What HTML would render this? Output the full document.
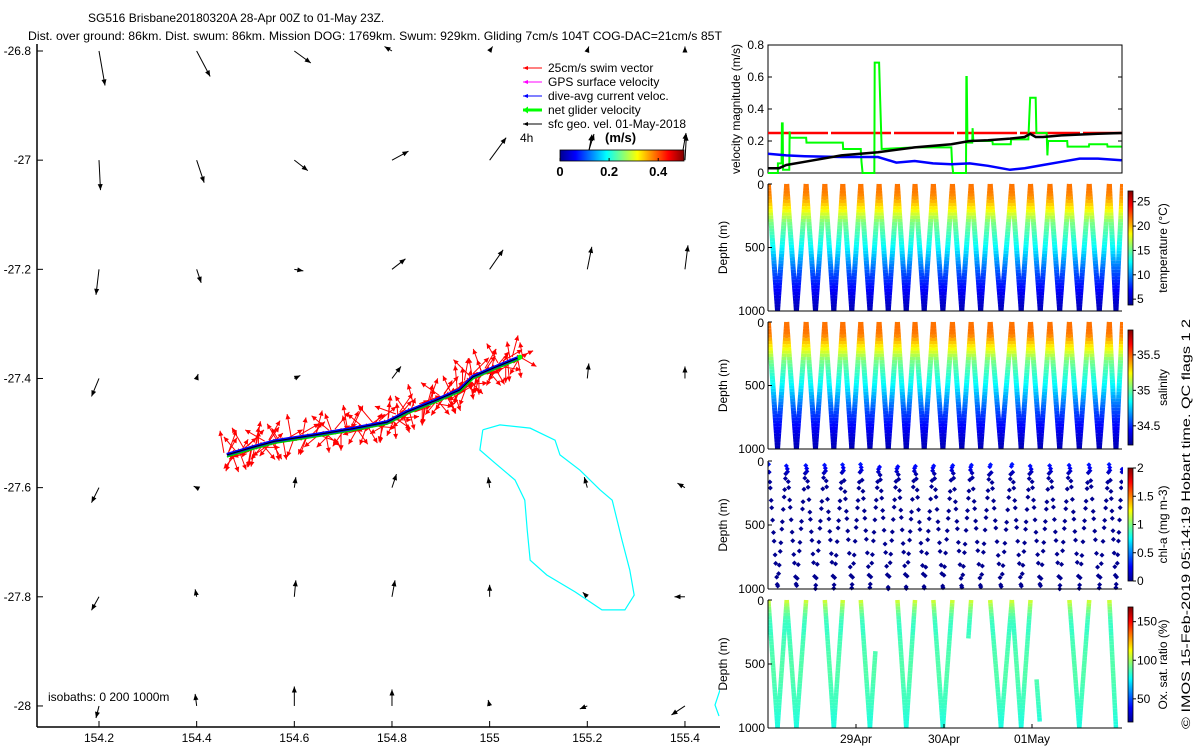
<!DOCTYPE html>
<html><head><meta charset="utf-8"><style>
html,body{margin:0;padding:0;background:#fff;}
svg{display:block;font-family:"Liberation Sans",sans-serif;font-size:12px;}
</style></head><body>
<svg id="root" width="1200" height="750" viewBox="0 0 1200 750" xmlns="http://www.w3.org/2000/svg">
<defs>
<linearGradient id="jetH" x1="0" y1="0" x2="1" y2="0">
<stop offset="0" stop-color="#00008f"/><stop offset="0.125" stop-color="#0000ff"/><stop offset="0.375" stop-color="#00ffff"/><stop offset="0.625" stop-color="#ffff00"/><stop offset="0.875" stop-color="#ff0000"/><stop offset="1" stop-color="#800000"/>
</linearGradient>
<linearGradient id="jetV" x1="0" y1="1" x2="0" y2="0">
<stop offset="0" stop-color="#00008f"/><stop offset="0.125" stop-color="#0000ff"/><stop offset="0.375" stop-color="#00ffff"/><stop offset="0.625" stop-color="#ffff00"/><stop offset="0.875" stop-color="#ff0000"/><stop offset="1" stop-color="#800000"/>
</linearGradient>
<clipPath id="mapClip"><rect x="37" y="44" width="683" height="683"/></clipPath>
<clipPath id="rClip"><rect x="768" y="40" width="355" height="700"/></clipPath>
</defs>
<g id="map"></g>
<g id="right"></g>
</svg>
<script>
// ---------- MAP DATA ----------
const gridLons = [154.2,154.4,154.6,154.8,155.0,155.2,155.4];
const gridLats = [-26.8,-27.0,-27.2,-27.4,-27.6,-27.8,-28.0];
const geoU = [
 [4,9,11,-5,2,1,0],
 [1,5,9,11,11,3,1],
 [-2,3,6,9,9,3,2],
 [-5,1,4,6,2,1,0],
 [-5,-2,1,3,-1,-2,-5],
 [-5,-1,1,2,0,-3,-7],
 [-2,-1,0,0,-1,-5,-9]];
const geoV = [
 [-23,-17,-8,3,3,3,3],
 [-20,-15,-7,6,15,17,17],
 [-17,-9,-1,7,13,15,16],
 [-12,3,2,8,9,10,8],
 [-10,1,7,9,7,7,3],
 [-9,5,11,11,8,3,0],
 [-8,8,13,11,4,-2,-6]];
const trackLon = [154.462,154.515,154.560,154.653,154.720,154.790,154.831,154.890,154.939,154.966,155.010,155.062];
const trackLat = [-27.540,-27.526,-27.515,-27.502,-27.492,-27.480,-27.461,-27.440,-27.421,-27.397,-27.380,-27.361];
const swimHeadings = [350,20,200,160,330,45,190,10,140,300,30,220,170,350,60,200,15,130,310,40,180,350,25,210,150,320,50,195,5,125,290,35,230,165,345,70,185,20,140,305,40,215,160,355,55,200,10,135,315,45,190,340,30,220,150,330,60,175,15,120];
const isoLon = [154.986,155.021,155.083,155.134,155.144,155.185,155.226,155.251,155.271,155.287,155.296,155.277,155.230,155.175,155.117,155.083,155.077,155.072,155.052,155.011,154.980,154.986];
const isoLat = [-27.494,-27.485,-27.491,-27.513,-27.540,-27.568,-27.604,-27.623,-27.696,-27.751,-27.797,-27.824,-27.824,-27.791,-27.760,-27.733,-27.678,-27.623,-27.586,-27.555,-27.531,-27.494];
const mapXTicks = [154.2,154.4,154.6,154.8,155,155.2,155.4];
const mapXLabels = ["154.2","154.4","154.6","154.8","155","155.2","155.4"];
const mapYTicks = [-26.8,-27,-27.2,-27.4,-27.6,-27.8,-28];
const mapYLabels = ["-26.8","-27","-27.2","-27.4","-27.6","-27.8","-28"];

// ---------- TIME SERIES DATA ----------
const blackT = [0,3,5,10,20,30,40,50,55,60,66,70,71.5,73,75,80,90,96.4];
const blackV = [0.03,0.03,0.05,0.07,0.11,0.13,0.16,0.18,0.2,0.205,0.215,0.225,0.245,0.225,0.225,0.235,0.245,0.25];
const blueT = [0,5,10,20,30,35,40,45,50,55,60,66,70,75,80,85,90,96.4];
const blueV = [0.12,0.11,0.105,0.1,0.1,0.065,0.075,0.06,0.055,0.06,0.045,0.02,0.03,0.05,0.07,0.09,0.09,0.08];
const greenSteps = [[0,0],[2.7,0],[2.7,0.06],[3.7,0.06],[3.8,0.31],[4.0,0.31],[4.1,0.02],[5.8,0.02],[5.9,0.26],[6.0,0.22],[10.4,0.22],[10.5,0.19],[20.4,0.19],[20.5,0.15],[25.3,0.15],[25.5,0.07],[25.8,0],[29.0,0],[29.1,0.69],[30.3,0.69],[30.6,0.45],[31.0,0.15],[40,0.16],[50,0.16],[50.2,0.06],[50.5,0],[54,0],[54.1,0.6],[54.2,0.6],[54.4,0.19],[55.7,0.19],[55.8,0.28],[56.0,0.2],[61.2,0.2],[61.3,0.18],[66.2,0.18],[66.3,0.21],[71.0,0.21],[71.3,0.37],[71.5,0.47],[73.0,0.47],[73.2,0.25],[76.0,0.25],[76.2,0.11],[76.4,0.2],[81.6,0.2],[81.7,0.165],[87.5,0.165],[87.6,0.18],[92.5,0.18],[92.6,0.165],[96.4,0.165]];
const swimSpeed = 0.25;
const velTicks = [0,0.2,0.4,0.6,0.8];
const velTickLabels = ["0","0.2","0.4","0.6","0.8"];
const diveStart = [0.1,5.1,10.4,15.5,20.4,25.3,30.3,35.3,40.1,45.1,50.3,55.4,60.6,66.5,71.6,76.9,82.2,87.6,93.1,96.7];
const profDepth = [0,50,100,150,200,250,300,400,500,600,700,800,900,1000];
const tempProf = [21.6,21.5,21,19.8,18.5,17,15.5,14,12.5,10.4,8.5,7.1,5.9,5];
const salProf = [35.46,35.47,35.45,35.35,35.25,35.15,35.04,34.93,34.83,34.68,34.55,34.45,34.37,34.31];
const oxyProf = [108,98,91,86,84,84,86,87,88,88,86,85,82,80];
const chlProf = [0.35,0.25,0.08,0.05,0.04,0.03,0.03,0.03,0.03,0.03,0.03,0.03,0.03,0.03];
const chlSampleDepths = [25,70,130,200,280,360,440,520,610,700,790,880,960];
// [dive index, leg ('d' down / 'u' up), min depth, max depth]
const oxyLegs = [[0,'d',0,1000],[0,'u',0,1000],[1,'d',0,1000],[1,'u',0,1000],[3,'d',0,1000],[3,'u',0,1000],[5,'d',0,1000],[5,'u',400,1000],[7,'d',0,1000],[7,'u',0,1000],[9,'d',0,1000],[9,'u',0,1000],[10,'u',0,300],[12,'d',0,1000],[12,'u',0,1000],[13,'d',0,1000],[13,'u',0,1000],[14,'d',620,950],[16,'d',0,1000],[16,'u',0,1000],[18,'d',0,1000]];
const dateTicks = [24,48,72];
const dateLabels = ["29Apr","30Apr","01May"];
const tempTicks = [5,10,15,20,25];
const salTicks = [34.5,35,35.5];
const chlTicks = [0,0.5,1,1.5,2];
const chlTickLabels = ["0","0.5","1","1.5","2"];
const oxyTicks = [50,100,150];

// ---------- helpers ----------
const NS = "http://www.w3.org/2000/svg";
function mk(tag, attrs, parent){
  const e = document.createElementNS(NS, tag);
  for (const k in attrs) e.setAttribute(k, attrs[k]);
  parent.appendChild(e);
  return e;
}
function txt(s, attrs, parent){ const e = mk('text', attrs, parent); e.textContent = s; return e; }
function jet(t){
  t = Math.max(0, Math.min(1, t));
  const c = v => Math.round(255*Math.max(0, Math.min(1, v)));
  return 'rgb('+c(1.5-Math.abs(4*t-3))+','+c(1.5-Math.abs(4*t-2))+','+c(1.5-Math.abs(4*t-1))+')';
}
function interp(xs, ys, x){
  if (x <= xs[0]) return ys[0];
  for (let i=1;i<xs.length;i++) if (x <= xs[i]) return ys[i-1] + (ys[i]-ys[i-1])*(x-xs[i-1])/(xs[i]-xs[i-1]);
  return ys[ys.length-1];
}
function arrow(parent, x1, y1, x2, y2, color, hl, hw, sw){
  const g = mk('g', {}, parent);
  const dx = x2-x1, dy = y2-y1, L = Math.hypot(dx,dy) || 1;
  const ux = dx/L, uy = dy/L;
  mk('line', {x1:x1, y1:y1, x2:x2, y2:y2, stroke:color, 'stroke-width':sw}, g);
  const bx = x2-ux*hl, by = y2-uy*hl;
  mk('polygon', {points: x2+','+y2+' '+(bx-uy*hw)+','+(by+ux*hw)+' '+(bx+uy*hw)+','+(by-ux*hw), fill:color}, g);
  return g;
}

// ---------- MAP ----------
const map = document.getElementById('map');
const mapX = lon => 99 + (lon-154.2)*488.3;
const mapY = lat => 51 + (-26.8-lat)*545.8;

let t = txt("SG516 Brisbane20180320A 28-Apr 00Z to 01-May 23Z.", {x:88, y:22}, map);


t = txt("Dist. over ground: 86km. Dist. swum: 86km. Mission DOG: 1769km. Swum: 929km. Gliding 7cm/s 104T COG-DAC=21cm/s 85T", {x:28, y:40, textLength:694, lengthAdjust:'spacingAndGlyphs'}, map);



const axes = mk('g', {}, map);


mk('line', {x1:37, y1:44, x2:37, y2:727, stroke:'#000', 'stroke-width':1.5}, axes);
mk('line', {x1:37, y1:727, x2:720, y2:727, stroke:'#000', 'stroke-width':1.5}, axes);
mapXTicks.forEach((v,i)=>{
  const x = mapX(v);
  mk('line', {x1:x, y1:727, x2:x, y2:721, stroke:'#000'}, axes);
  const l = txt(mapXLabels[i], {x:x, y:742, 'text-anchor':'middle'}, axes);
  
  
});
mapYTicks.forEach((v,i)=>{
  const y = mapY(v);
  mk('line', {x1:37, y1:y, x2:43, y2:y, stroke:'#000'}, axes);
  const l = txt(mapYLabels[i], {x:31, y:y+4, 'text-anchor':'end'}, axes);
  
  
});

const mapBody = mk('g', {'clip-path':'url(#mapClip)'}, map);
const iso = mk('polyline', {points: isoLon.map((v,i)=>mapX(v)+','+mapY(isoLat[i])).join(' '), fill:'none', stroke:'#00ffff', 'stroke-width':1.2}, mapBody);


mk('polyline', {points:'720,690 715,705 719,716', fill:'none', stroke:'#00ffff', 'stroke-width':1.2}, mapBody);

const qg = mk('g', {}, mapBody);


const qs = 1.5;
gridLats.forEach((lat,r)=>{
  gridLons.forEach((lon,c)=>{
    const x = mapX(lon), y = mapY(lat);
    const a = arrow(qg, x, y, x+geoU[r][c]*qs, y-geoV[r][c]*qs, '#000', 6, 2.5, 1);
    
    
  });
});

const sg = mk('g', {}, mapBody);


const nS = swimHeadings.length;
for (let i=0;i<nS;i++){
  const f = i/(nS-1)*(trackLon.length-1);
  const k = Math.min(trackLon.length-2, Math.floor(f)), fr = f-k;
  const lon = trackLon[k]+(trackLon[k+1]-trackLon[k])*fr;
  const lat = trackLat[k]+(trackLat[k+1]-trackLat[k])*fr;
  const x = mapX(lon), y = mapY(lat);
  const L = swimSpeed*90;
  [0,7,19].forEach((off,j)=>{
    const h = (swimHeadings[(i+off)%nS] + j*20)*Math.PI/180;
    const sx = x + j*3 - 3, sy = y + (j-1)*2;
    const a = arrow(sg, sx, sy, sx+Math.sin(h)*L*(1-j*0.12), sy-Math.cos(h)*L*(1-j*0.12), '#ff0000', 5, 2.5, 1);
    
    
  });
}
const tp = trackLon.map((v,i)=>mapX(v)+','+mapY(trackLat[i])).join(' ');
let tr = mk('polyline', {points:tp, fill:'none', stroke:'#0000ff', 'stroke-width':4}, mapBody);


tr = mk('polyline', {points:tp, fill:'none', stroke:'#00cc00', 'stroke-width':1.5, transform:'translate(0,2)'}, mapBody);


tr = mk('polyline', {points:tp, fill:'none', stroke:'#000', 'stroke-width':1}, mapBody);


mk('circle', {cx:mapX(trackLon[trackLon.length-1]), cy:mapY(trackLat[trackLat.length-1]), r:2.5, fill:'#00ff00'}, mapBody);

const lg = mk('g', {}, map);


const legItems = [["25cm/s swim vector",'#ff0000',1],["GPS surface velocity",'#ff00ff',1],["dive-avg current veloc.",'#0000ff',1],["net glider velocity",'#00ff00',3],["sfc geo. vel. 01-May-2018",'#000',1]];
legItems.forEach((it,i)=>{
  const y = 68 + i*14;
  const e = mk('g', {}, lg);
  
  
  arrow(e, 542, y, 523, y, it[1], 5, it[2]>1?3.5:2, it[2]);
  txt(it[0], {x:548, y:y+4}, e);
});
txt("4h", {x:520, y:142}, lg);
txt("(m/s)", {x:605, y:142, 'font-weight':'bold', 'font-size':'13px'}, lg);
const mcb = mk('rect', {x:560, y:150, width:124, height:11, fill:'url(#jetH)', stroke:'#000', 'stroke-width':0.8}, lg);


[[0,"0"],[0.2,"0.2"],[0.4,"0.4"]].forEach(p=>{
  const x = 560 + p[0]/0.505*124;
  mk('line', {x1:x, y1:161, x2:x, y2:158, stroke:'#000'}, lg);
  txt(p[1], {x:x, y:176, 'text-anchor':'middle', 'font-weight':'bold', 'font-size':'13px'}, lg);
});
arrow(lg, 589, 150, 594, 134, '#000', 6, 2.5, 1);
arrow(lg, 683, 150, 686, 133, '#000', 6, 2.5, 1);
t = txt("isobaths: 0   200  1000m", {x:48, y:701, 'xml:space':'preserve'}, map);



// ---------- RIGHT PANELS ----------
const R = document.getElementById('right');
const X0 = 768, X1 = 1122;
const tX = h => X0 + h*88/24;
const vY = v => 173 - v*160;

const vp = mk('g', {}, R);


mk('rect', {x:X0, y:45, width:X1-X0, height:128, fill:'none', stroke:'#000', 'stroke-width':1}, vp);
velTicks.forEach((v,i)=>{
  const y = vY(v);
  mk('line', {x1:X0, y1:y, x2:X0+4, y2:y, stroke:'#000'}, vp);
  mk('line', {x1:X1, y1:y, x2:X1-4, y2:y, stroke:'#000'}, vp);
  txt(velTickLabels[i], {x:764, y:y+4, 'text-anchor':'end'}, vp);
});
txt("velocity magnitude (m/s)", {x:0, y:0, transform:'translate(740,109) rotate(-90)', 'text-anchor':'middle'}, vp);
const vb = mk('g', {'clip-path':'url(#rClip)'}, vp);
let ln = mk('line', {x1:tX(0), y1:vY(swimSpeed), x2:tX(96.4), y2:vY(swimSpeed), stroke:'#ff0000', 'stroke-width':2.5, 'stroke-dasharray':'60 3'}, vb);


ln = mk('polyline', {points: greenSteps.map(p=>tX(p[0])+','+vY(p[1])).join(' '), fill:'none', stroke:'#00ff00', 'stroke-width':2}, vb);


ln = mk('polyline', {points: blueT.map((h,i)=>tX(h)+','+vY(blueV[i])).join(' '), fill:'none', stroke:'#0000ff', 'stroke-width':2.5}, vb);


ln = mk('polyline', {points: blackT.map((h,i)=>tX(h)+','+vY(blackV[i])).join(' '), fill:'none', stroke:'#000', 'stroke-width':2.5}, vb);



const panels = [
 {top:184, bot:311, name:'temperature-panel', prof:tempProf, lo:3.8, hi:27.2, cb:[191,305], ticks:tempTicks, tl:tempTicks.map(String), label:"temperature (\u00B0C)", sw:5},
 {top:322, bot:449, name:'salinity-panel', prof:salProf, lo:34.23, hi:35.85, cb:[330,445], ticks:salTicks, tl:salTicks.map(String), label:"salinity", sw:5},
 {top:461, bot:589, name:'chlorophyll-panel', prof:chlProf, lo:0, hi:2, cb:[468,581], ticks:chlTicks, tl:chlTickLabels, label:"chl-a (mg m-3)", sw:0},
 {top:600, bot:728, name:'oxygen-panel', prof:oxyProf, lo:20, hi:169, cb:[607,722], ticks:oxyTicks, tl:oxyTicks.map(String), label:"Ox. sat. ratio (%)", sw:4.5}
];
function legX(di, leg, d){
  const s = diveStart[di], e = diveStart[di+1], m = (s+e)/2;
  return leg==='d' ? tX(s + (m-s)*d/1000) : tX(e - (e-m)*d/1000);
}
panels.forEach((p,pi)=>{
  const g = mk('g', {}, R);
  
  
  const dY = d => p.top + d/1000*(p.bot-p.top);
  const body = mk('g', {'clip-path':'url(#rClip)'}, g);
  const col = d => jet((interp(profDepth, p.prof, d)-p.lo)/(p.hi-p.lo));
  function drawLeg(di, leg, dmin, dmax){
    const step = 25;
    for (let d=dmin; d<dmax; d+=step){
      const d2 = Math.min(dmax, d+step);
      const s = mk('line', {x1:legX(di,leg,d), y1:dY(d), x2:legX(di,leg,d2), y2:dY(d2), stroke:col((d+d2)/2), 'stroke-width':p.sw}, body);
      
      
    }
  }
  if (pi < 2){
    for (let di=0; di<diveStart.length-1; di++){ drawLeg(di,'d',0,1000); drawLeg(di,'u',0,1000); }
  } else if (pi === 3){
    oxyLegs.forEach(l=>drawLeg(l[0], l[1], l[2], l[3]));
  } else {
    for (let di=0; di<diveStart.length-1; di++){
      ['d','u'].forEach((leg,li)=>{
        chlSampleDepths.forEach((d,k)=>{
          const dd = Math.min(1000, d + ((di*37+li*53+k*17)%40));
          const x = legX(di, leg, dd), y = dY(dd);
          const c = col(dd);
          const pt = mk('path', {d:'M'+(x-2.5)+' '+y+'L'+x+' '+(y-2.5)+'L'+(x+2.5)+' '+y+'L'+x+' '+(y+2.5)+'Z', fill:c}, body);
          
          
        });
      });
    }
  }
  mk('line', {x1:X0, y1:p.top, x2:X0, y2:p.bot, stroke:'#000'}, g);
  mk('line', {x1:X0, y1:p.bot, x2:X1, y2:p.bot, stroke:'#000'}, g);
  [[0,"0"],[500,"500"],[1000,"1000"]].forEach(q=>{
    const y = dY(q[0]);
    mk('line', {x1:X0, y1:y, x2:X0+4, y2:y, stroke:'#000'}, g);
    txt(q[1], {x:q[0]===0?764:765, y:y+(q[0]===0?5:4), 'text-anchor':'end'}, g);
  });
  txt("Depth (m)", {x:0, y:0, transform:'translate(727,'+((p.top+p.bot)/2)+') rotate(-90)', 'text-anchor':'middle'}, g);
  const cb = mk('rect', {x:1128, y:p.cb[0], width:5, height:p.cb[1]-p.cb[0], fill:'url(#jetV)', stroke:'#000', 'stroke-width':0.8}, g);
  
  
  p.ticks.forEach((v,i)=>{
    const y = p.cb[1] - (v-p.lo)/(p.hi-p.lo)*(p.cb[1]-p.cb[0]);
    mk('line', {x1:1133, y1:y, x2:1136, y2:y, stroke:'#000'}, g);
    txt(p.tl[i], {x:1137, y:y+4}, g);
  });
  txt(p.label, {x:0, y:0, transform:'translate(1167,'+((p.cb[0]+p.cb[1])/2)+') rotate(-90)', 'text-anchor':'middle'}, g);
});
const da = mk('g', {}, R);


dateTicks.forEach((h,i)=>{
  const x = tX(h);
  mk('line', {x1:x, y1:728, x2:x, y2:724, stroke:'#000'}, da);
  txt(dateLabels[i], {x:x, y:743, 'text-anchor':'middle'}, da);
});
t = txt("\u00A9 IMOS 15-Feb-2019 05:14:19 Hobart time. QC flags 1  2", {x:0, y:0, transform:'translate(1190,524) rotate(-90)', 'text-anchor':'middle', 'xml:space':'preserve', textLength:410, lengthAdjust:'spacingAndGlyphs'}, R);


</script>
</body></html>
